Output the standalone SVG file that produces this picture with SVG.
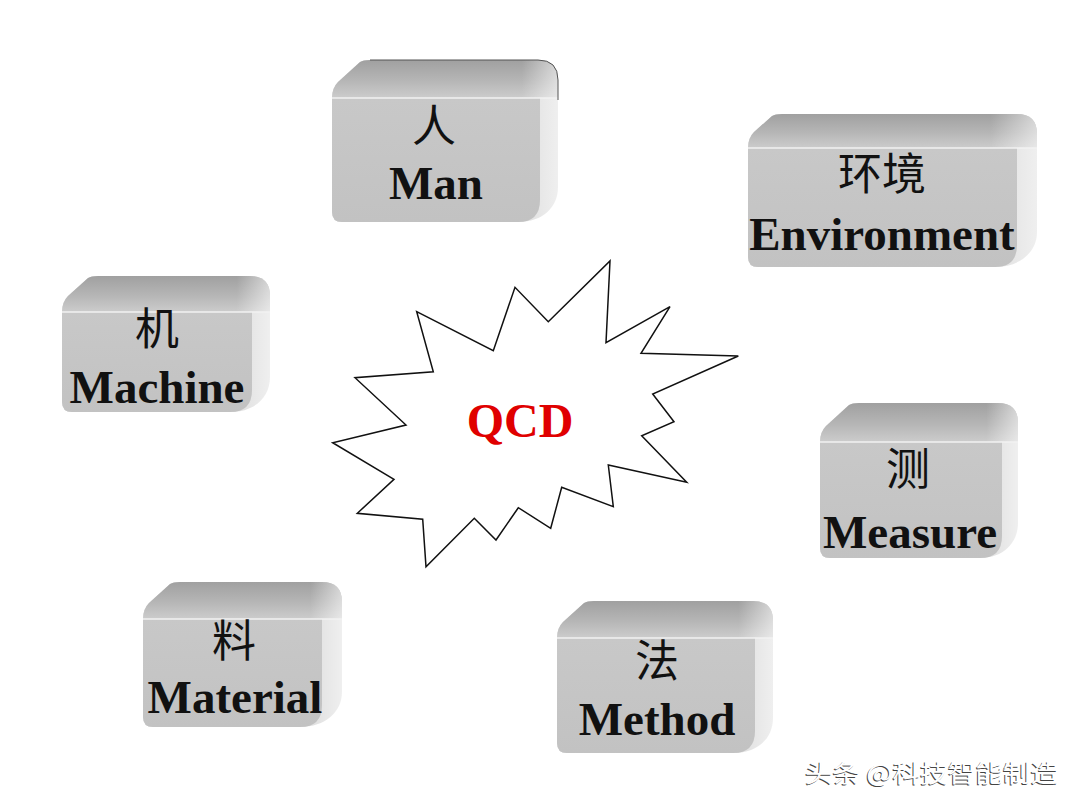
<svg xmlns="http://www.w3.org/2000/svg" width="1080" height="810" viewBox="0 0 1080 810">
<defs>
<linearGradient id="gSide" x1="0" y1="0" x2="1" y2="0">
<stop offset="0" stop-color="#d8d8d8"/><stop offset="0.85" stop-color="#e0e0e0"/><stop offset="1" stop-color="#efefef"/>
</linearGradient>
<linearGradient id="gTop" x1="0" y1="0" x2="0" y2="1">
<stop offset="0" stop-color="#a0a0a0"/><stop offset="0.55" stop-color="#b6b6b6"/><stop offset="1" stop-color="#cccccc"/>
</linearGradient>
<linearGradient id="gTopHi" x1="0" y1="0" x2="1" y2="0">
<stop offset="0" stop-color="#ffffff" stop-opacity="0"/><stop offset="0.84" stop-color="#ffffff" stop-opacity="0"/><stop offset="1" stop-color="#ffffff" stop-opacity="0.55"/>
</linearGradient>
<linearGradient id="gFront" x1="0" y1="0" x2="0" y2="1">
<stop offset="0" stop-color="#c8c8c8"/><stop offset="1" stop-color="#c2c2c2"/>
</linearGradient>
</defs>
<style>
.sil{fill:url(#gSide)}
.top{fill:url(#gTop)}
.tophi{fill:url(#gTopHi)}
.front{fill:url(#gFront)}
.edge{stroke:#f2f2f2;stroke-width:1.5;fill:none}
.cn{font-family:"Liberation Serif","Noto Sans CJK SC",serif;font-size:44px;fill:#111;text-anchor:middle}
.en{font-family:"Liberation Serif","Times New Roman",serif;font-size:47px;font-weight:bold;fill:#111;text-anchor:middle}
.qcd{font-family:"Liberation Serif","Times New Roman",serif;font-size:48px;font-weight:bold;fill:#e00000;text-anchor:middle}
.star{fill:#ffffff;stroke:#111;stroke-width:1.5;stroke-linejoin:miter}
.wm{font-family:"Noto Sans CJK SC","Noto Sans",sans-serif;font-size:24px}
</style>
<rect width="1080" height="810" fill="#ffffff"/>
<g id="connectors"></g>

<g id="man">
<path class="sil" d="M332,98 Q332,88 338,82 L360,62 Q363,60 370,60 L538,60 Q558,60 558,80 L558,187 C558,207 543,222 518,222 L342,222 Q332,222 332,212 Z"/>
<path class="top" d="M332,98 Q332,88 338,82 L360,62 Q363,60 370,60 L538,60 Q558,60 558,80 L558,98 Z"/>
<path class="tophi" d="M332,98 Q332,88 338,82 L360,62 Q363,60 370,60 L538,60 Q558,60 558,80 L558,98 Z"/>
<path class="front" d="M332,98 L540,98 L540,200 Q540,222 518,222 L342,222 Q332,222 332,212 Z"/>
<path class="edge" d="M332,98 H558"/>
<path d="M370,60 L538,60 Q558,60 558,80 L558,100" fill="none" stroke="#555" stroke-width="1"/>
<text class="cn" x="434" y="142">人</text>
<text class="en" x="436" y="199">Man</text>
</g>

<g id="environment">
<path class="sil" d="M748,148 Q748,138 754,132 L772,116 Q775,114 782,114 L1017,114 Q1037,114 1037,134 L1037,232 C1037,252 1020,267 995,267 L758,267 Q748,267 748,257 Z"/>
<path class="top" d="M748,148 Q748,138 754,132 L772,116 Q775,114 782,114 L1017,114 Q1037,114 1037,134 L1037,148 Z"/>
<path class="tophi" d="M748,148 Q748,138 754,132 L772,116 Q775,114 782,114 L1017,114 Q1037,114 1037,134 L1037,148 Z"/>
<path class="front" d="M748,148 L1017,148 L1017,245 Q1017,267 995,267 L758,267 Q748,267 748,257 Z"/>
<path class="edge" d="M748,148 H1037"/>
<text class="cn" x="882" y="190">环境</text>
<text class="en" x="882" y="250">Environment</text>
</g>

<g id="machine">
<path class="sil" d="M62,312 Q62,302 68,296 L88,278 Q91,276 98,276 L250,276 Q270,276 270,296 L270,377 C270,397 255,412 230,412 L72,412 Q62,412 62,402 Z"/>
<path class="top" d="M62,312 Q62,302 68,296 L88,278 Q91,276 98,276 L250,276 Q270,276 270,296 L270,312 Z"/>
<path class="tophi" d="M62,312 Q62,302 68,296 L88,278 Q91,276 98,276 L250,276 Q270,276 270,296 L270,312 Z"/>
<path class="front" d="M62,312 L252,312 L252,390 Q252,412 230,412 L72,412 Q62,412 62,402 Z"/>
<path class="edge" d="M62,312 H270"/>
<text class="cn" x="157" y="345">机</text>
<text class="en" x="157" y="403">Machine</text>
</g>

<g id="material">
<path class="sil" d="M143,619 Q143,609 149,603 L170,584 Q173,582 180,582 L322,582 Q342,582 342,602 L342,692 C342,712 325,727 300,727 L153,727 Q143,727 143,717 Z"/>
<path class="top" d="M143,619 Q143,609 149,603 L170,584 Q173,582 180,582 L322,582 Q342,582 342,602 L342,619 Z"/>
<path class="tophi" d="M143,619 Q143,609 149,603 L170,584 Q173,582 180,582 L322,582 Q342,582 342,602 L342,619 Z"/>
<path class="front" d="M143,619 L322,619 L322,705 Q322,727 300,727 L153,727 Q143,727 143,717 Z"/>
<path class="edge" d="M143,619 H342"/>
<text class="cn" x="234" y="657">料</text>
<text class="en" x="235" y="713">Material</text>
</g>

<g id="method">
<path class="sil" d="M557,638 Q557,628 563,622 L584,603 Q587,601 594,601 L753,601 Q773,601 773,621 L773,718 C773,738 758,753 733,753 L567,753 Q557,753 557,743 Z"/>
<path class="top" d="M557,638 Q557,628 563,622 L584,603 Q587,601 594,601 L753,601 Q773,601 773,621 L773,638 Z"/>
<path class="tophi" d="M557,638 Q557,628 563,622 L584,603 Q587,601 594,601 L753,601 Q773,601 773,621 L773,638 Z"/>
<path class="front" d="M557,638 L755,638 L755,731 Q755,753 733,753 L567,753 Q557,753 557,743 Z"/>
<path class="edge" d="M557,638 H773"/>
<text class="cn" x="657" y="677">法</text>
<text class="en" x="657" y="735">Method</text>
</g>

<g id="measure">
<path class="sil" d="M820,442 Q820,432 826,426 L849,405 Q852,403 859,403 L998,403 Q1018,403 1018,423 L1018,523 C1018,543 1003,558 980,558 L830,558 Q820,558 820,548 Z"/>
<path class="top" d="M820,442 Q820,432 826,426 L849,405 Q852,403 859,403 L998,403 Q1018,403 1018,423 L1018,442 Z"/>
<path class="tophi" d="M820,442 Q820,432 826,426 L849,405 Q852,403 859,403 L998,403 Q1018,403 1018,423 L1018,442 Z"/>
<path class="front" d="M820,442 L1002,442 L1002,536 Q1002,558 980,558 L830,558 Q820,558 820,548 Z"/>
<path class="edge" d="M820,442 H1018"/>
<text class="cn" x="908" y="485">测</text>
<text class="en" x="910" y="548">Measure</text>
</g>

<g id="qcd">
<polygon class="star" points="416.7,311.7 493.3,350.7 515,287.3 548.3,321.7 610,261 606,342.7 670,306.7 641,353.3 738.3,356 652.7,394 674,421.7 641.7,435.7 686.7,482.3 608.3,465 613.3,506.7 561.7,487.3 550.7,528.3 518.3,507.7 496,540 474.3,518.3 426,566.7 422.7,519.3 357.3,513.3 394,479.3 332.7,442.7 406,425 355,377.7 433.3,371.7"/>
<text class="qcd" x="520" y="437">QCD</text>
</g>

<g id="watermark">
<text class="wm" x="804" y="783" fill="#444" textLength="253" lengthAdjust="spacingAndGlyphs">头条 @科技智能制造</text>
<text class="wm" x="805" y="782" fill="#ffffff" textLength="253" lengthAdjust="spacingAndGlyphs">头条 @科技智能制造</text>
</g>
</svg>
